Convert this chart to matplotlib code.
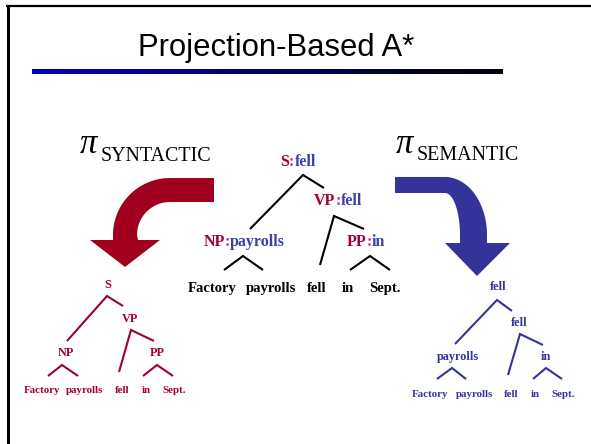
import numpy as np
import matplotlib.pyplot as plt
from matplotlib.patches import Polygon
from matplotlib.colors import LinearSegmentedColormap

# --- data: the sentence and its two projections ---
words = ["Factory", "payrolls", "fell", "in", "Sept."]
syn_labels = ["S", "VP", "NP", "PP"]
sem_heads = ["fell", "fell", "payrolls", "in"]

RED = "#a8002e"
BLUE = "#3f3fae"
COLON = "#c8339a"
ARROW_RED = "#a0001e"
ARROW_BLUE = "#333399"
SMALL_RED = "#a0002a"
SMALL_BLUE = "#333399"
SERIF = "Liberation Serif"

# --- layouts (pixel coordinates, y down) ---
center_nodes = [(298, 162), (338, 201), (244, 242), (366, 242)]
center_branches = [((303, 175), (250, 229), (324, 188)),
                   ((334, 216), (320, 265), (364, 229)),
                   ((243, 256), (224, 270), (263, 270)),
                   ((370, 256), (350, 270), (390, 270))]
center_words_x = [212, 271, 317, 348, 385]
center_words_y = 288

left_nodes = [(108, 285), (130, 319), (66, 353), (157, 353)]
left_branches = [((107, 296), (67, 341), (123, 306)),
                 ((131, 330), (119, 372), (154, 341)),
                 ((62, 365), (48, 376), (78, 376)),
                 ((157, 365), (143, 376), (173, 376))]
left_words_x = [42, 85, 122, 146, 174]
left_words_y = 390

right_nodes = [(498, 287), (519, 323), (458, 357), (546, 357)]
right_branches = [((497, 300), (455, 344), (512, 311)),
                  ((520, 334), (508, 375), (543, 345)),
                  ((452, 368), (437, 379), (466, 379)),
                  ((546, 368), (533, 379), (562, 379))]
right_words_x = [430, 475, 511, 535, 563]
right_words_y = 394

fig = plt.figure(figsize=(5.91, 4.44), dpi=100)
ax = fig.add_axes([0, 0, 1, 1])
ax.set_xlim(0, 591)
ax.set_ylim(444, 0)
ax.axis('off')
renderer = fig.canvas.get_renderer()

# slide frame
ax.plot([7.5, 7.5], [5, 444], color='black', lw=2.2, solid_capstyle='butt')
ax.plot([6, 591], [6, 6], color='black', lw=1.6, solid_capstyle='butt')

# title and gradient rule
ax.text(276, 56, "Projection-Based A*", ha='center', va='baseline',
        fontsize=22.3, family='Liberation Sans', color='black')
grad = LinearSegmentedColormap.from_list('rule', ["#0000c8", "#000060", "#000008"])
ax.imshow(np.linspace(0, 1, 256)[None, :], extent=(32, 503, 74, 69),
          cmap=grad, aspect='auto', interpolation='bilinear')


def _w(s, size):
    t = ax.text(100, 100, s, fontsize=size, family=SERIF, weight='bold', ha='left')
    w = t.get_window_extent(renderer).width
    t.remove()
    return w


def colored_label(x, y, parts, size):
    # each part is placed so its right edge matches where it ends in the full string
    full = "".join(s for s, _ in parts)
    anchor = x - _w(full, size) / 2
    prefix = ""
    for s, c in parts:
        xs = anchor + _w(prefix + s, size) - _w(s, size)
        ax.text(xs, y, s, fontsize=size, family=SERIF, weight='bold',
                va='center', ha='left', color=c)
        prefix += s


def draw_branches(branches, color):
    for apex, l, r in branches:
        ax.plot([l[0], apex[0], r[0]], [l[1], apex[1], r[1]], color=color,
                lw=1.5, solid_capstyle='butt', solid_joinstyle='miter')


def draw_words(xs, y, color, size):
    for w, x in zip(words, xs):
        ax.text(x, y, w, ha='center', va='center', fontsize=size,
                family=SERIF, weight='bold', color=color)


# central tree: category:head
for (x, y), lab, head in zip(center_nodes, syn_labels, sem_heads):
    colored_label(x, y, [(lab, RED), (":", COLON), (head, BLUE)], 11.5)
draw_branches(center_branches, 'black')
draw_words(center_words_x, center_words_y, 'black', 10.5)

# syntactic projection
for (x, y), lab in zip(left_nodes, syn_labels):
    ax.text(x, y, lab, ha='center', va='center', fontsize=8.8,
            family=SERIF, weight='bold', color=SMALL_RED)
draw_branches(left_branches, SMALL_RED)
draw_words(left_words_x, left_words_y, SMALL_RED, 7.8)

# semantic projection
for (x, y), head in zip(right_nodes, sem_heads):
    ax.text(x, y, head, ha='center', va='center', fontsize=8.8,
            family=SERIF, weight='bold', color=SMALL_BLUE)
draw_branches(right_branches, SMALL_BLUE)
draw_words(right_words_x, right_words_y, SMALL_BLUE, 7.8)

# pi labels
ax.text(80, 153, "\u03c0", fontsize=25, family=SERIF, style='italic',
        va='baseline', ha='left')
ax.text(101, 161, "SYNTACTIC", fontsize=14.4, family=SERIF, va='baseline', ha='left')
ax.text(396, 153, "\u03c0", fontsize=25, family=SERIF, style='italic',
        va='baseline', ha='left')
ax.text(417, 160, "SEMANTIC", fontsize=14.4, family=SERIF, va='baseline', ha='left')

# curved arrows
th = np.linspace(np.pi / 2, np.pi, 40)
outer = np.column_stack([170 + 57 * np.cos(th), 235 - 57 * np.sin(th)])
inner = np.column_stack([170 + 33 * np.cos(th[::-1]), 235 - 33 * np.sin(th[::-1])])
red_pts = np.vstack([[[214, 178]], outer, [[113, 240], [90, 240], [125, 267],
                                           [160, 240], [138, 240]],
                     inner, [[214, 202]]])
ax.add_patch(Polygon(red_pts, closed=True, fc=ARROW_RED, ec='none'))

th = np.linspace(np.pi / 2, 0, 40)
outer = np.column_stack([445 + 42 * np.cos(th), 235 - 58 * np.sin(th)])
inner = np.column_stack([445 + 15 * np.cos(th[::-1]), 235 - 42 * np.sin(th[::-1])])
blue_pts = np.vstack([[[395, 177]], outer, [[487, 243], [510, 243], [477, 276],
                                            [445, 243], [460, 243]],
                      inner, [[395, 193]]])
ax.add_patch(Polygon(blue_pts, closed=True, fc=ARROW_BLUE, ec='none'))

fig.savefig('out.png', dpi=100)
